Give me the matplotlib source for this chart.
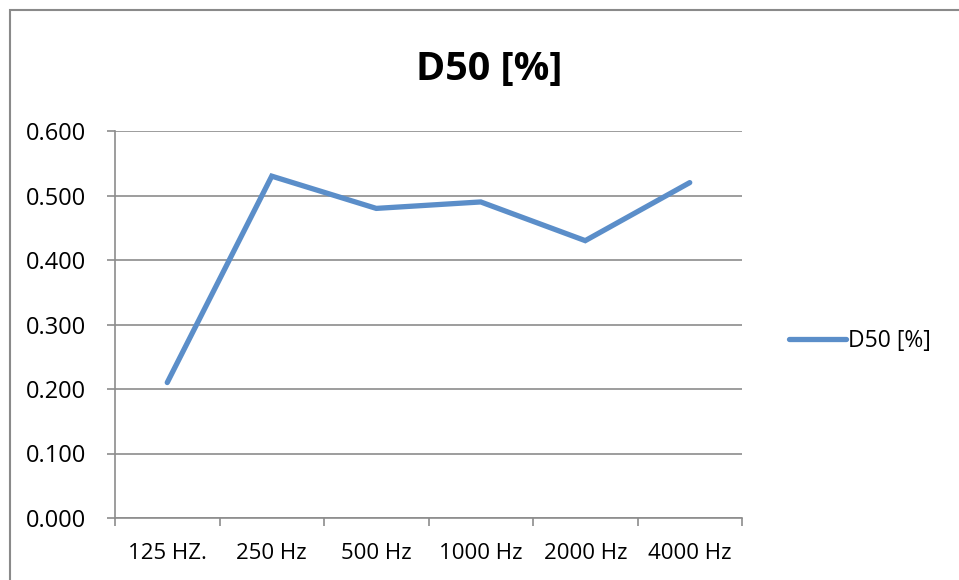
import numpy as np
import matplotlib
matplotlib.use('Agg')
from matplotlib import pyplot as plt
from matplotlib.patches import Rectangle

plt.rcParams['font.family'] = ['Open Sans', 'DejaVu Sans']

categories = ['125 HZ.', '250 Hz', '500 Hz', '1000 Hz', '2000 Hz', '4000 Hz']
d50 = [0.21, 0.53, 0.48, 0.49, 0.43, 0.52]
yticks = [0.0, 0.1, 0.2, 0.3, 0.4, 0.5, 0.6]

grid_col = '#8c8c8c'
line_col = '#5b8ec9'

fig = plt.figure(figsize=(9.59, 5.8), dpi=100)
ax = fig.add_axes([115 / 959, 1 - 518 / 580, (742 - 115) / 959, (518 - 131) / 580])

# chart border (only top and left visible in the crop)
fig.patches.append(Rectangle((10 / 959, -0.2), 1.2, 1 - 9.5 / 580 + 0.2,
                             transform=fig.transFigure, fill=False,
                             edgecolor='#8a8a8a', linewidth=1.5))

x = np.arange(len(categories)) + 0.5
ax.plot(x, d50, color=line_col, linewidth=3.8, solid_capstyle='round',
        solid_joinstyle='miter', label='D50 [%]')

ax.set_xlim(0, len(categories))
ax.set_ylim(0, 0.6)
ax.set_yticks(yticks)
ax.set_yticklabels(['%.3f' % v for v in yticks])
ax.set_xticks(np.arange(len(categories) + 1))
ax.set_xticklabels([])
ax.set_xticks(x, minor=True)
ax.set_xticklabels(categories, minor=True)

ax.yaxis.grid(True, color=grid_col, linewidth=1.2)
ax.set_axisbelow(True)
for s in ['top', 'right']:
    ax.spines[s].set_visible(False)
for s in ['left', 'bottom']:
    ax.spines[s].set_color(grid_col)
    ax.spines[s].set_linewidth(1.2)

ax.tick_params(axis='y', length=6, width=1.2, color=grid_col, pad=15, labelsize=17)
ax.tick_params(axis='x', which='major', length=6, width=1.2, color=grid_col)
ax.tick_params(axis='x', which='minor', length=0, pad=18, labelsize=16)

fig.text(489 / 959, 1 - 69 / 580, 'D50 [%]', ha='center', va='center',
         fontsize=28.5, fontweight='bold')

fig.legend(loc='center left', bbox_to_anchor=(780 / 959, 1 - 341 / 580),
           frameon=False, fontsize=16.5, handlelength=2.5, handletextpad=0.05,
           borderaxespad=0)

fig.savefig('out.png', dpi=100)
